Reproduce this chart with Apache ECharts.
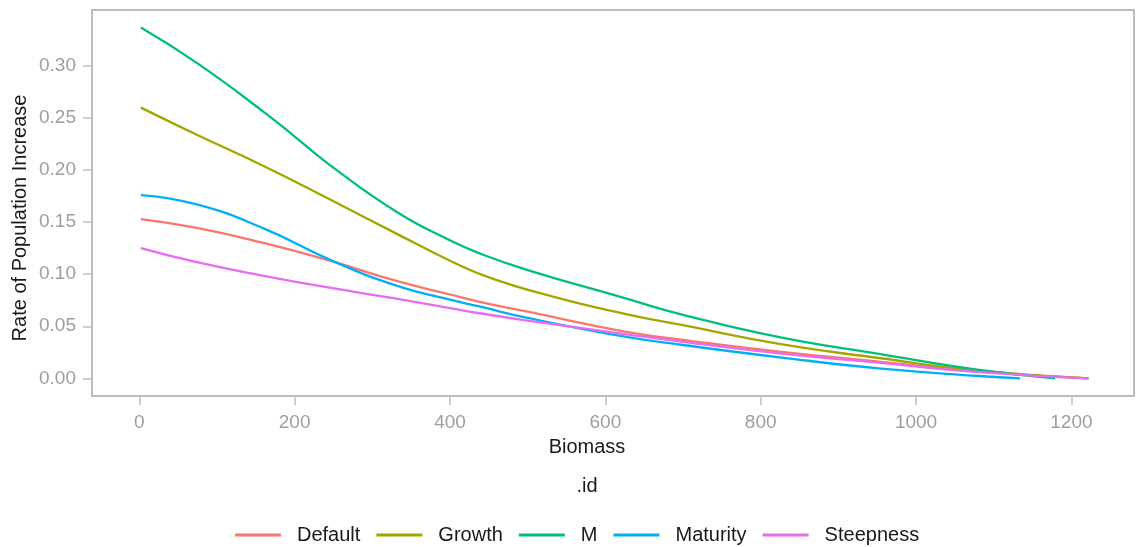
<!DOCTYPE html>
<html>
<head>
<meta charset="utf-8">
<script src="https://cdn.jsdelivr.net/npm/echarts@6/dist/echarts.min.js"></script>
<style>html,body{margin:0;padding:0;background:#fff}#c{width:1136px;height:547px}</style>
</head>
<body>
<div id="c"></div>
<script>
// ---- data ----
const seriesNames = ['Default', 'Growth', 'M', 'Maturity', 'Steepness'];
const seriesColors = ['#F8766D', '#A3A500', '#00BF7D', '#00B0F6', '#E76BF3'];

const defaultX = [2, 74, 160, 245, 331, 400, 438, 500, 625, 700, 824, 952, 1081, 1222];
const defaultY = [0.153, 0.1445, 0.130, 0.113, 0.0935, 0.0805, 0.0735, 0.064, 0.0449, 0.037, 0.0256, 0.016, 0.0064, 0.0];

const growthX = [2, 74, 160, 245, 331, 400, 450, 530, 625, 700, 824, 952, 1081, 1222];
const growthY = [0.260, 0.234, 0.204, 0.172, 0.139, 0.113, 0.097, 0.079, 0.062, 0.051, 0.033, 0.0195, 0.0073, 0.0];

const mX = [2, 74, 160, 202, 245, 331, 400, 438, 500, 625, 700, 824, 952, 1081, 1179];
const mY = [0.337, 0.303, 0.256, 0.231, 0.205, 0.160, 0.1325, 0.120, 0.104, 0.077, 0.061, 0.0395, 0.0234, 0.008, 0.0];

const maturityX = [2, 74, 160, 245, 331, 400, 438, 500, 625, 700, 824, 952, 1081, 1134];
const maturityY = [0.176, 0.167, 0.144, 0.114, 0.089, 0.0755, 0.069, 0.058, 0.040, 0.032, 0.0202, 0.0096, 0.0022, 0.0];

const steepnessX = [2, 74, 160, 245, 331, 400, 438, 500, 625, 700, 824, 952, 1081, 1222];
const steepnessY = [0.125, 0.1115, 0.0985, 0.087, 0.0765, 0.0675, 0.0625, 0.0555, 0.0425, 0.035, 0.024, 0.015, 0.006, 0.0];

const xTicks = [0, 200, 400, 600, 800, 1000, 1200];
const yTicks = [0, 0.05, 0.10, 0.15, 0.20, 0.25, 0.30];

const xs = [defaultX, growthX, mX, maturityX, steepnessX];
const ys = [defaultY, growthY, mY, maturityY, steepnessY];

const chart = echarts.init(document.getElementById('c'), null, {renderer: 'canvas'});
const tickGray = '#9e9e9e';
const borderGray = '#bdbdbd';
const font = 'Liberation Sans, Arial, sans-serif';

const option = {
  animation: false,
  backgroundColor: '#fff',
  grid: {left: 92, top: 10, width: 1042, height: 386, show: true, borderColor: borderGray, borderWidth: 2, containLabel: false},
  xAxis: {
    type: 'value', min: -60.9, max: 1280.6,
    axisLine: {show: false, onZero: false},
    splitLine: {show: false},
    axisTick: {show: true, customValues: xTicks, length: 9, lineStyle: {color: borderGray, width: 1.5}},
    axisLabel: {customValues: xTicks, color: tickGray, fontSize: 19, fontFamily: font, margin: 17,
      formatter: v => String(v)}
  },
  yAxis: {
    type: 'value', min: -0.017, max: 0.3538,
    axisLine: {show: false, onZero: false},
    splitLine: {show: false},
    axisTick: {show: true, customValues: yTicks, length: 9, lineStyle: {color: borderGray, width: 1.5}},
    axisLabel: {customValues: yTicks, color: tickGray, fontSize: 19, fontFamily: font, margin: 16,
      formatter: v => v.toFixed(2)}
  },
  legend: {
    data: seriesNames, left: 230, top: 520, icon: 'rect', itemWidth: 46, itemHeight: 3, itemGap: 16,
    textStyle: {fontSize: 20, color: '#1a1a1a', fontFamily: font, padding: [0, 0, 0, 11]}
  },
  graphic: [
    {type: 'text', x: 587, y: 447, style: {text: 'Biomass', font: '20px ' + font, fill: '#1a1a1a', textAlign: 'center', textVerticalAlign: 'middle'}},
    {type: 'text', x: 587, y: 486, style: {text: '.id', font: '20px ' + font, fill: '#1a1a1a', textAlign: 'center', textVerticalAlign: 'middle'}},
    {type: 'text', x: 20, y: 218, rotation: Math.PI / 2, style: {text: 'Rate of Population Increase', font: '20px ' + font, fill: '#1a1a1a', textAlign: 'center', textVerticalAlign: 'middle'}}
  ],
  series: seriesNames.map((n, i) => ({
    name: n, type: 'line', showSymbol: false, symbol: 'none',
    smooth: 0.5,
    color: seriesColors[i],
    lineStyle: {width: 2.3, color: seriesColors[i]},
    data: xs[i].map((x, j) => [x, ys[i][j]])
  }))
};
chart.setOption(option);
</script>
</body>
</html>
